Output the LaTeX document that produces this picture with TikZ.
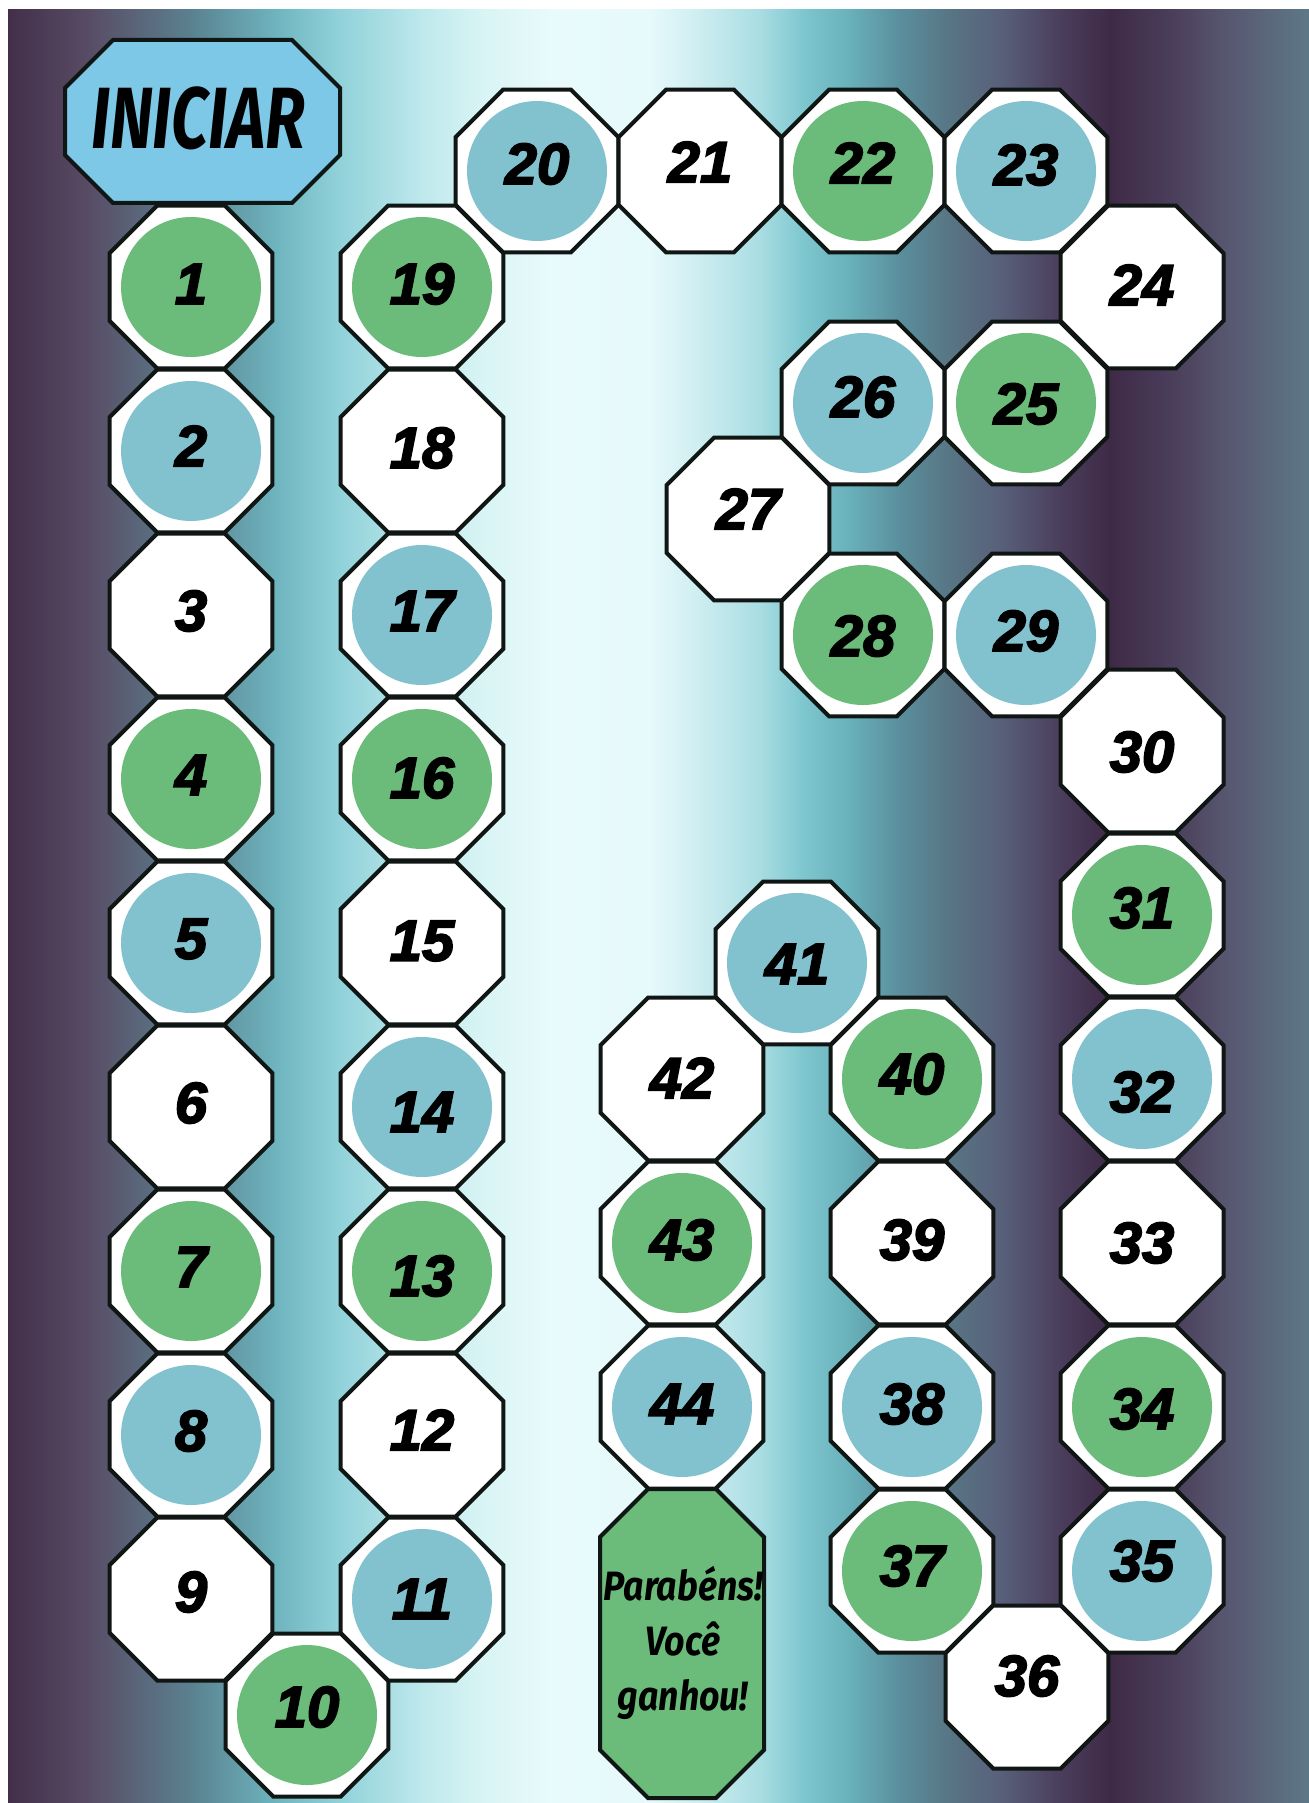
\documentclass[tikz,border=0pt]{standalone}
\usepackage{fontspec}
\usetikzlibrary{shapes.geometric}
\setmainfont{Liberation Sans}
\newfontfamily\numfont{Liberation Sans}[UprightFont={* Bold Italic}, FakeBold=3]
\newfontfamily\titlefont{Fira Sans}[UprightFont={* Bold Italic}, FakeStretch=0.75]
\newfontfamily\goalfont{Fira Sans}[UprightFont={* Bold Italic}, FakeStretch=0.87]
\definecolor{cgreen}{HTML}{6BBB7B}
\definecolor{cblue}{HTML}{82C2CF}
\definecolor{cstart}{HTML}{7CC8E6}
\definecolor{cline}{HTML}{101614}
\definecolor{b0}{HTML}{432F4A}
\definecolor{b1}{HTML}{574A63}
\definecolor{b2}{HTML}{5A6378}
\definecolor{b3}{HTML}{5A8290}
\definecolor{b4}{HTML}{6EB4BE}
\definecolor{b5}{HTML}{8ED0D8}
\definecolor{b6}{HTML}{BDE8EC}
\definecolor{b7}{HTML}{D8F4F4}
\definecolor{b8}{HTML}{E8FAFC}
\definecolor{b9}{HTML}{E6F9FB}
\definecolor{b10}{HTML}{CDEDF0}
\definecolor{b11}{HTML}{A8DDE2}
\definecolor{b12}{HTML}{80C8D0}
\definecolor{b13}{HTML}{68B0BA}
\definecolor{b14}{HTML}{5A8E9C}
\definecolor{b15}{HTML}{587584}
\definecolor{b16}{HTML}{58607A}
\definecolor{b17}{HTML}{4A3E5C}
\definecolor{b18}{HTML}{3E2A46}
\definecolor{b19}{HTML}{4A3E5A}
\definecolor{b20}{HTML}{56546E}
\definecolor{b21}{HTML}{5E7888}
\tikzset{
  tile/.style={regular polygon, regular polygon sides=8, minimum size=88.2pt,
    inner sep=0pt, outer sep=0pt, draw=cline, line width=2pt, fill=white},
  gtile/.style={tile, path picture={\fill[cgreen] (path picture bounding box.center) circle (35pt);}},
  btile/.style={tile, path picture={\fill[cblue] (path picture bounding box.center) circle (35pt);}},
  wtile/.style={tile},
  numtext/.style={font=\numfont\fontsize{29}{29}\selectfont, inner sep=0pt},
  board/.style={draw=cline, line width=2pt, line join=miter}
}
\begin{document}
\begin{tikzpicture}[x=0.5pt,y=-0.5pt]
\useasboundingbox (0,0) rectangle (1309,1803);
\fill[white] (0,0) rectangle (1309,1803);
% background gradient
\foreach \xa/\ca/\xb/\cb in {8/b0/83/b1, 83/b1/133/b2, 133/b2/192/b3, 192/b3/275/b4,
  275/b4/334/b5, 334/b5/420/b6, 420/b6/480/b7, 480/b7/550/b8, 550/b8/650/b9,
  650/b9/700/b10, 700/b10/760/b11, 760/b11/800/b12, 800/b12/850/b13, 850/b13/900/b14,
  900/b14/950/b15, 950/b15/1000/b16, 1000/b16/1060/b17, 1060/b17/1110/b18,
  1110/b18/1170/b19, 1170/b19/1220/b20, 1220/b20/1309/b21}
  \shade[left color=\ca, right color=\cb] (\xa,10) rectangle (\xb+1,1803);

% start box
\draw[board, fill=cstart] (113,40) -- (292,40) -- (340,88) -- (340,155) -- (292,203)
  -- (113,203) -- (65,155) -- (65,88) -- cycle;
\node[font=\titlefont\fontsize{43.5}{43.5}\selectfont, inner sep=0pt] (start) at (198,118) {INICIAR};

% tiles: number / x / y / colour / text shift
\foreach \n/\x/\y/\t/\d in {
  1/191/287/g/-3, 2/191/451/b/-5, 3/191/615/w/-4, 4/191/779/g/-4, 5/191/943/b/-4,
  6/191/1107/w/-4, 7/191/1271/g/-4, 8/191/1435/b/-4, 9/191/1599/w/-7, 10/307/1715/g/-8,
  11/422/1599/b/0, 12/422/1435/w/-5, 13/422/1271/g/5, 14/422/1107/b/5, 15/422/943/w/-2,
  16/422/779/g/-1, 17/422/615/b/-4, 18/422/451/w/-3, 19/422/287/g/-3,
  20/537/171/b/-7, 21/700/171/w/-9, 22/863/171/g/-8, 23/1026/171/b/-6, 24/1142/287/w/-2,
  25/1026/403/g/1, 26/863/403/b/-6, 27/748/519/w/-10, 28/863/635/g/1, 29/1026/635/b/-4,
  30/1142/751/w/1, 31/1142/915/g/-7, 32/1142/1079/b/13, 33/1142/1243/w/0, 34/1142/1407/g/2,
  35/1142/1571/b/-10, 36/1027/1687/w/-11, 37/912/1571/g/-5, 38/912/1407/b/-3, 39/912/1243/w/-3,
  40/912/1079/g/-5, 41/797/963/b/1, 42/682/1079/w/-1, 43/682/1243/g/-3, 44/682/1407/b/-3}
{
  \node[\t tile] (t\n) at (\x,\y) {};
  \node[numtext] (n\n) at (\x,\y+\d) {\n};
}

% goal box
\draw[board, fill=cgreen] (648,1489) -- (716,1489) -- (764,1537) -- (764,1750)
  -- (716,1798) -- (648,1798) -- (600,1750) -- (600,1537) -- cycle;
\node[font=\goalfont\fontsize{20.5}{27.5}\selectfont, align=center, inner sep=0pt] (goal) at (683,1643)
  {Parabéns!\\Você\\ganhou!};
\end{tikzpicture}
\end{document}
